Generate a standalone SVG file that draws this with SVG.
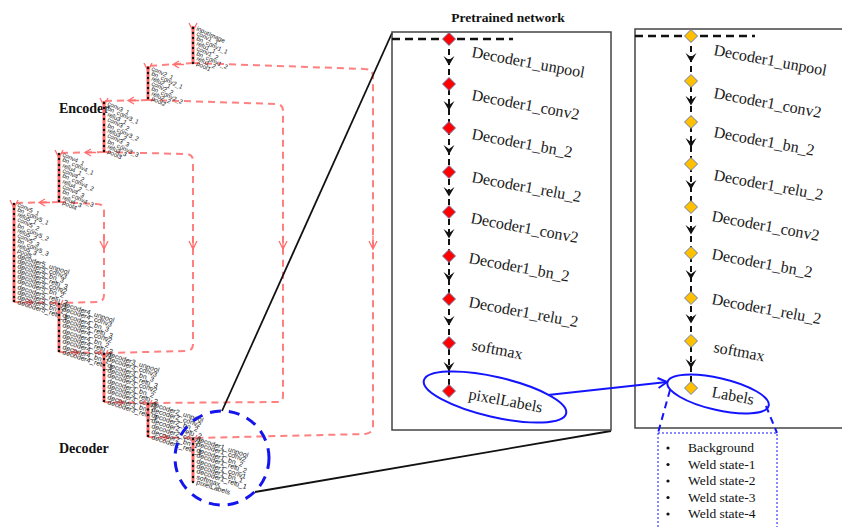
<svg xmlns="http://www.w3.org/2000/svg" xmlns:xlink="http://www.w3.org/1999/xlink" width="842" height="527" viewBox="0 0 842 527">
<style>
.lbl{font-family:"Liberation Serif",serif;font-size:16px;fill:#1a1a1a}
.ttl{font-family:"Liberation Serif",serif;font-size:13.5px;font-weight:bold;fill:#111}
.big{font-family:"Liberation Serif",serif;font-size:14px;font-weight:bold;fill:#111}
.leg{font-family:"Liberation Serif",serif;font-size:13.5px;fill:#111}
.tn{font-family:"Liberation Sans",sans-serif;font-size:6.2px;fill:#1a1a1a}
.td{font-family:"Liberation Sans",sans-serif;font-size:7px;fill:#1a1a1a}
.col{stroke:#ff6a6a;stroke-width:3;fill:none}
.dot{fill:#111}
.skip{fill:none;stroke:#ff8080;stroke-width:2;stroke-dasharray:7 5}
.rarr{fill:none;stroke:#ff7070;stroke-width:1.3}
.chain{stroke:#111;stroke-width:2;stroke-dasharray:6 4;fill:none}
.topd{stroke:#111;stroke-width:2.5;stroke-dasharray:8 5;fill:none}
.box{fill:none;stroke:#444;stroke-width:1.5}
.dr{fill:#ff0000;stroke:#6a7fb0;stroke-width:1}
.dy{fill:#ffc000;stroke:#6a7fb0;stroke-width:1}
.blue{fill:none;stroke:#1414ff;stroke-width:2}
</style>
<defs>
<path id="ah" d="M-5.5,-6 L0,3.5 L5.5,-6 L0,-2 Z" fill="#111"/>
<path id="dm" d="M0,-6.5 L6.5,0 L0,6.5 L-6.5,0 Z"/>
<marker id="bh" markerWidth="14" markerHeight="14" refX="10" refY="6" orient="auto" markerUnits="userSpaceOnUse">
<path d="M1,1 L10,6 L1,11" fill="none" stroke="#1414ff" stroke-width="2"/>
</marker>
</defs>

<!-- Left network -->
<g id="network">
<text class="big" x="59" y="113">Encoder</text>
<text class="big" x="59" y="453">Decoder</text>

<g id="connectors-left">
<path class="skip" d="M193,63 L365,69 Q373,69 373,77 L373,427 Q373,433 365,434 L196,438"/>
<path class="skip" d="M148,100 L276,104 Q283,104 283,111 L283,396 Q283,402 276,402 L150,403"/>
<path class="skip" d="M104,152 L186,154 Q193,154 193,161 L193,344 Q193,351 186,351 L106,353"/>
<path class="skip" d="M59,202 L97,204 Q104,204 104,211 L104,295 Q104,302 97,302 L61,303"/>
<path class="skip" d="M193,63 L148,66"/>
<path class="skip" d="M148,100 L104,101"/>
<path class="skip" d="M104,152 L59,153"/>
<path class="skip" d="M59,202 L14,203"/>
<path class="skip" d="M14,302 L59,303"/>
<path class="skip" d="M59,352 L104,353"/>
<path class="skip" d="M104,402 L148,403"/>
<path class="skip" d="M148,437 L193,438"/>
<path class="rarr" d="M179,61 L173,64.5 L179,68 M173,64.5 L184,64.5"/>
<path class="rarr" d="M134,97 L128,100.5 L134,104 M128,100.5 L139,100.5"/>
<path class="rarr" d="M91,149 L85,152.5 L91,156 M85,152.5 L96,152.5"/>
<path class="rarr" d="M45,199 L39,202.5 L45,206 M39,202.5 L50,202.5"/>
<path class="rarr" d="M27,299 L33,302.5 L27,306 M22,302.5 L33,302.5"/>
<path class="rarr" d="M73,349 L79,352.5 L73,356 M68,352.5 L79,352.5"/>
<path class="rarr" d="M118,399 L124,402.5 L118,406 M113,402.5 L124,402.5"/>
<path class="rarr" d="M163,434 L169,437.5 L163,441 M158,437.5 L169,437.5"/>
<path class="rarr" d="M100,241 L104,249 L108,241 M104,236 L104,249"/>
<path class="rarr" d="M189,241 L193,249 L197,241 M193,236 L193,249"/>
<path class="rarr" d="M279,241 L283,249 L287,241 M283,236 L283,249"/>
<path class="rarr" d="M369,241 L373,249 L377,241 M373,236 L373,249"/>
</g>

<g id="b1">
<path class="col" d="M193,26 L193,64"/>
<path class="rarr" d="M189,23 L193,31 L197,23"/>
<g class="dot"><circle cx="193" cy="28" r="1.2"/><circle cx="193" cy="33" r="1.2"/><circle cx="193" cy="38" r="1.2"/><circle cx="193" cy="43" r="1.2"/><circle cx="193" cy="48" r="1.2"/><circle cx="193" cy="53" r="1.2"/><circle cx="193" cy="58" r="1.2"/><circle cx="193" cy="63" r="1.2"/></g>
<g class="tn">
<text transform="translate(196,30) rotate(25)">inputImage</text>
<text transform="translate(196,35) rotate(25)">conv1_1</text>
<text transform="translate(196,40) rotate(25)">bn_conv1_1</text>
<text transform="translate(196,45) rotate(25)">relu1_1</text>
<text transform="translate(196,50) rotate(25)">conv1_2</text>
<text transform="translate(196,55) rotate(25)">bn_conv1_2</text>
<text transform="translate(196,60) rotate(25)">relu1_2</text>
<text transform="translate(196,65) rotate(25)">pool1</text>
</g>
</g>

<g id="b2">
<path class="col" d="M148,66 L148,100"/>
<path class="rarr" d="M144,63 L148,71 L152,63"/>
<g class="dot"><circle cx="148" cy="68" r="1.2"/><circle cx="148" cy="73" r="1.2"/><circle cx="148" cy="78" r="1.2"/><circle cx="148" cy="83" r="1.2"/><circle cx="148" cy="88" r="1.2"/><circle cx="148" cy="93" r="1.2"/><circle cx="148" cy="98" r="1.2"/></g>
<g class="tn">
<text transform="translate(151,70) rotate(25)">conv2_1</text>
<text transform="translate(151,75) rotate(25)">bn_conv2_1</text>
<text transform="translate(151,80) rotate(25)">relu2_1</text>
<text transform="translate(151,85) rotate(25)">conv2_2</text>
<text transform="translate(151,90) rotate(25)">bn_conv2_2</text>
<text transform="translate(151,95) rotate(25)">relu2_2</text>
<text transform="translate(151,100) rotate(25)">pool2</text>
</g>
</g>

<g id="b3">
<path class="col" d="M104,101 L104,152"/>
<path class="rarr" d="M100,98 L104,106 L108,98"/>
<g class="dot"><circle cx="104" cy="103" r="1.2"/><circle cx="104" cy="108" r="1.2"/><circle cx="104" cy="114" r="1.2"/><circle cx="104" cy="119" r="1.2"/><circle cx="104" cy="125" r="1.2"/><circle cx="104" cy="130" r="1.2"/><circle cx="104" cy="135" r="1.2"/><circle cx="104" cy="141" r="1.2"/><circle cx="104" cy="146" r="1.2"/><circle cx="104" cy="151" r="1.2"/></g>
<g class="tn">
<text transform="translate(107,105) rotate(25)">conv3_1</text>
<text transform="translate(107,110) rotate(25)">bn_conv3_1</text>
<text transform="translate(107,116) rotate(25)">relu3_1</text>
<text transform="translate(107,121) rotate(25)">conv3_2</text>
<text transform="translate(107,127) rotate(25)">bn_conv3_2</text>
<text transform="translate(107,132) rotate(25)">relu3_2</text>
<text transform="translate(107,137) rotate(25)">conv3_3</text>
<text transform="translate(107,143) rotate(25)">bn_conv3_3</text>
<text transform="translate(107,148) rotate(25)">relu3_3</text>
<text transform="translate(107,153) rotate(25)">pool3</text>
</g>
</g>

<g id="b4">
<path class="col" d="M59,153 L59,202"/>
<path class="rarr" d="M55,150 L59,158 L63,150"/>
<g class="dot"><circle cx="59" cy="154" r="1.2"/><circle cx="59" cy="159" r="1.2"/><circle cx="59" cy="165" r="1.2"/><circle cx="59" cy="170" r="1.2"/><circle cx="59" cy="175" r="1.2"/><circle cx="59" cy="181" r="1.2"/><circle cx="59" cy="186" r="1.2"/><circle cx="59" cy="191" r="1.2"/><circle cx="59" cy="197" r="1.2"/><circle cx="59" cy="201" r="1.2"/></g>
<g class="tn">
<text transform="translate(62,156) rotate(25)">conv4_1</text>
<text transform="translate(62,161) rotate(25)">bn_conv4_1</text>
<text transform="translate(62,167) rotate(25)">relu4_1</text>
<text transform="translate(62,172) rotate(25)">conv4_2</text>
<text transform="translate(62,177) rotate(25)">bn_conv4_2</text>
<text transform="translate(62,183) rotate(25)">relu4_2</text>
<text transform="translate(62,188) rotate(25)">conv4_3</text>
<text transform="translate(62,193) rotate(25)">bn_conv4_3</text>
<text transform="translate(62,199) rotate(25)">relu4_3</text>
<text transform="translate(62,204) rotate(25)">pool4</text>
</g>
</g>

<g id="b5">
<path class="col" d="M14,203 L14,302"/>
<path class="rarr" d="M10,200 L14,208 L18,200"/>
<g class="dot"><circle cx="14" cy="204" r="1.2"/><circle cx="14" cy="209" r="1.2"/><circle cx="14" cy="214" r="1.2"/><circle cx="14" cy="219" r="1.2"/><circle cx="14" cy="225" r="1.2"/><circle cx="14" cy="230" r="1.2"/><circle cx="14" cy="235" r="1.2"/><circle cx="14" cy="240" r="1.2"/><circle cx="14" cy="245" r="1.2"/><circle cx="14" cy="250" r="1.2"/><circle cx="14" cy="256" r="1.2"/><circle cx="14" cy="261" r="1.2"/><circle cx="14" cy="266" r="1.2"/><circle cx="14" cy="271" r="1.2"/><circle cx="14" cy="276" r="1.2"/><circle cx="14" cy="281" r="1.2"/><circle cx="14" cy="287" r="1.2"/><circle cx="14" cy="292" r="1.2"/><circle cx="14" cy="297" r="1.2"/><circle cx="14" cy="301" r="1.2"/></g>
<g class="tn">
<text transform="translate(17,206) rotate(25)">conv5_1</text>
<text transform="translate(17,211) rotate(25)">bn_conv5_1</text>
<text transform="translate(17,216) rotate(25)">relu5_1</text>
<text transform="translate(17,221) rotate(25)">conv5_2</text>
<text transform="translate(17,227) rotate(25)">bn_conv5_2</text>
<text transform="translate(17,232) rotate(25)">relu5_2</text>
<text transform="translate(17,237) rotate(25)">conv5_3</text>
<text transform="translate(17,242) rotate(25)">bn_conv5_3</text>
<text transform="translate(17,247) rotate(25)">relu5_3</text>
<text transform="translate(17,252) rotate(25)">pool5</text>
</g>
<g class="td">
<text transform="translate(17,258) rotate(18)">decoder5_unpool</text>
<text transform="translate(17,263) rotate(18)">decoder5_conv3</text>
<text transform="translate(17,268) rotate(18)">decoder5_bn_3</text>
<text transform="translate(17,273) rotate(18)">decoder5_relu_3</text>
<text transform="translate(17,278) rotate(18)">decoder5_conv2</text>
<text transform="translate(17,283) rotate(18)">decoder5_bn_2</text>
<text transform="translate(17,289) rotate(18)">decoder5_relu_2</text>
<text transform="translate(17,294) rotate(18)">decoder5_conv1</text>
<text transform="translate(17,299) rotate(18)">decoder5_bn_1</text>
<text transform="translate(17,304) rotate(18)">decoder5_relu_1</text>
</g>
</g>

<g id="d4">
<path class="col" d="M59,303 L59,352"/>
<path class="rarr" d="M55,300 L59,308 L63,300"/>
<g class="dot"><circle cx="59" cy="304" r="1.2"/><circle cx="59" cy="309" r="1.2"/><circle cx="59" cy="315" r="1.2"/><circle cx="59" cy="320" r="1.2"/><circle cx="59" cy="325" r="1.2"/><circle cx="59" cy="331" r="1.2"/><circle cx="59" cy="336" r="1.2"/><circle cx="59" cy="341" r="1.2"/><circle cx="59" cy="347" r="1.2"/><circle cx="59" cy="351" r="1.2"/></g>
<g class="td">
<text transform="translate(62,306) rotate(18)">decoder4_unpool</text>
<text transform="translate(62,311) rotate(18)">decoder4_conv3</text>
<text transform="translate(62,317) rotate(18)">decoder4_bn_3</text>
<text transform="translate(62,322) rotate(18)">decoder4_relu_3</text>
<text transform="translate(62,327) rotate(18)">decoder4_conv2</text>
<text transform="translate(62,333) rotate(18)">decoder4_bn_2</text>
<text transform="translate(62,338) rotate(18)">decoder4_relu_2</text>
<text transform="translate(62,343) rotate(18)">decoder4_conv1</text>
<text transform="translate(62,349) rotate(18)">decoder4_bn_1</text>
<text transform="translate(62,354) rotate(18)">decoder4_relu_1</text>
</g>
</g>

<g id="d3">
<path class="col" d="M104,353 L104,402"/>
<path class="rarr" d="M100,350 L104,358 L108,350"/>
<g class="dot"><circle cx="104" cy="354" r="1.2"/><circle cx="104" cy="359" r="1.2"/><circle cx="104" cy="365" r="1.2"/><circle cx="104" cy="370" r="1.2"/><circle cx="104" cy="375" r="1.2"/><circle cx="104" cy="381" r="1.2"/><circle cx="104" cy="386" r="1.2"/><circle cx="104" cy="391" r="1.2"/><circle cx="104" cy="397" r="1.2"/><circle cx="104" cy="401" r="1.2"/></g>
<g class="td">
<text transform="translate(107,356) rotate(18)">decoder3_unpool</text>
<text transform="translate(107,361) rotate(18)">decoder3_conv3</text>
<text transform="translate(107,367) rotate(18)">decoder3_bn_3</text>
<text transform="translate(107,372) rotate(18)">decoder3_relu_3</text>
<text transform="translate(107,377) rotate(18)">decoder3_conv2</text>
<text transform="translate(107,383) rotate(18)">decoder3_bn_2</text>
<text transform="translate(107,388) rotate(18)">decoder3_relu_2</text>
<text transform="translate(107,393) rotate(18)">decoder3_conv1</text>
<text transform="translate(107,399) rotate(18)">decoder3_bn_1</text>
<text transform="translate(107,404) rotate(18)">decoder3_relu_1</text>
</g>
</g>

<g id="d2">
<path class="col" d="M148,403 L148,437"/>
<path class="rarr" d="M144,400 L148,408 L152,400"/>
<g class="dot"><circle cx="148" cy="404" r="1.2"/><circle cx="148" cy="409.5" r="1.2"/><circle cx="148" cy="415" r="1.2"/><circle cx="148" cy="420.5" r="1.2"/><circle cx="148" cy="426" r="1.2"/><circle cx="148" cy="431.5" r="1.2"/><circle cx="148" cy="436" r="1.2"/></g>
<g class="td">
<text transform="translate(151,406) rotate(18)">decoder2_unpool</text>
<text transform="translate(151,411.5) rotate(18)">decoder2_conv2</text>
<text transform="translate(151,417) rotate(18)">decoder2_bn_2</text>
<text transform="translate(151,422.5) rotate(18)">decoder2_relu_2</text>
<text transform="translate(151,428) rotate(18)">decoder2_conv1</text>
<text transform="translate(151,433.5) rotate(18)">decoder2_bn_1</text>
<text transform="translate(151,439) rotate(18)">decoder2_relu_1</text>
</g>
</g>

<g id="d1">
<path class="col" d="M193,438 L193,482"/>
<path class="rarr" d="M189,435 L193,443 L197,435"/>
<g class="dot"><circle cx="193" cy="439" r="1.2"/><circle cx="193" cy="444" r="1.2"/><circle cx="193" cy="450" r="1.2"/><circle cx="193" cy="455" r="1.2"/><circle cx="193" cy="461" r="1.2"/><circle cx="193" cy="466" r="1.2"/><circle cx="193" cy="471" r="1.2"/><circle cx="193" cy="477" r="1.2"/><circle cx="193" cy="482" r="1.2"/></g>
<g class="td">
<text transform="translate(196,441) rotate(18)">decoder1_unpool</text>
<text transform="translate(196,446) rotate(18)">decoder1_conv2</text>
<text transform="translate(196,452) rotate(18)">decoder1_bn_2</text>
<text transform="translate(196,457) rotate(18)">decoder1_relu_2</text>
<text transform="translate(196,463) rotate(18)">decoder1_conv1</text>
<text transform="translate(196,468) rotate(18)">decoder1_bn_1</text>
<text transform="translate(196,473) rotate(18)">decoder1_relu_1</text>
<text transform="translate(196,479) rotate(18)">softmax</text>
<text transform="translate(196,484) rotate(18)">pixelLabels</text>
</g>
</g>

<circle id="zoom-circle" cx="222" cy="458" r="47" fill="none" stroke="#1414ee" stroke-width="3" stroke-dasharray="11 8"/>
</g>

<g id="zoom-lines">
<path d="M222,411 L392,33" stroke="#111" stroke-width="1.8" fill="none"/>
<path d="M255,492 L611,431" stroke="#111" stroke-width="1.8" fill="none"/>
</g>

<!-- Middle panel -->
<g id="pretrained">
<text class="ttl" x="508" y="22" text-anchor="middle">Pretrained  network</text>
<rect class="box" x="392" y="32" width="219" height="398"/>
<path class="topd" d="M392,39 L513,39"/>
<path class="chain" d="M449,39 L449,391"/>
<g id="arrows-mid">
<use href="#ah" x="449" y="62"/><use href="#ah" x="449" y="107"/><use href="#ah" x="449" y="151"/><use href="#ah" x="449" y="193"/><use href="#ah" x="449" y="235"/><use href="#ah" x="449" y="278"/><use href="#ah" x="449" y="322"/><use href="#ah" x="449" y="368"/>
</g>
<g class="dr">
<use href="#dm" x="449" y="39"/><use href="#dm" x="449" y="84"/><use href="#dm" x="449" y="128"/><use href="#dm" x="449" y="172"/><use href="#dm" x="449" y="212"/><use href="#dm" x="449" y="256"/><use href="#dm" x="449" y="299"/><use href="#dm" x="449" y="343"/><use href="#dm" x="449" y="391"/>
</g>
<g class="lbl">
<text transform="translate(471,57) rotate(10.5)">Decoder1_unpool</text>
<text transform="translate(471,100) rotate(10.5)">Decoder1_conv2</text>
<text transform="translate(471,139) rotate(10.5)">Decoder1_bn_2</text>
<text transform="translate(471,182) rotate(10.5)">Decoder1_relu_2</text>
<text transform="translate(470,223) rotate(10.5)">Decoder1_conv2</text>
<text transform="translate(468,263) rotate(10.5)">Decoder1_bn_2</text>
<text transform="translate(468,307) rotate(10.5)">Decoder1_relu_2</text>
<text transform="translate(471,350) rotate(10.5)">softmax</text>
<text transform="translate(468,399) rotate(10.5)">pixelLabels</text>
</g>
<ellipse class="blue" cx="495" cy="397" rx="73" ry="20" transform="rotate(13 495 397)"/>
</g>

<!-- Right panel -->
<g id="new-network">
<path class="box" d="M850,29 L635,29 L635,428 L850,428"/>
<path class="topd" d="M635,36 L755,36"/>
<path class="chain" d="M691,36 L691,388"/>
<g id="arrows-right">
<use href="#ah" x="691" y="59"/><use href="#ah" x="691" y="102"/><use href="#ah" x="691" y="144"/><use href="#ah" x="691" y="186"/><use href="#ah" x="691" y="231"/><use href="#ah" x="691" y="276"/><use href="#ah" x="691" y="320"/><use href="#ah" x="691" y="365"/>
</g>
<g class="dy">
<use href="#dm" x="691" y="36"/><use href="#dm" x="691" y="81"/><use href="#dm" x="691" y="122"/><use href="#dm" x="691" y="164"/><use href="#dm" x="691" y="207"/><use href="#dm" x="691" y="253"/><use href="#dm" x="691" y="298"/><use href="#dm" x="691" y="341"/><use href="#dm" x="691" y="388"/>
</g>
<g class="lbl">
<text transform="translate(713,55) rotate(10.5)">Decoder1_unpool</text>
<text transform="translate(713,98) rotate(10.5)">Decoder1_conv2</text>
<text transform="translate(713,137) rotate(10.5)">Decoder1_bn_2</text>
<text transform="translate(713,180) rotate(10.5)">Decoder1_relu_2</text>
<text transform="translate(711,221) rotate(10.5)">Decoder1_conv2</text>
<text transform="translate(711,259) rotate(10.5)">Decoder1_bn_2</text>
<text transform="translate(711,304) rotate(10.5)">Decoder1_relu_2</text>
<text transform="translate(713,352) rotate(10.5)">softmax</text>
<text transform="translate(711,397) rotate(10.5)">Labels</text>
</g>
<ellipse class="blue" cx="718" cy="394" rx="52" ry="16" transform="rotate(13 718 394)"/>
</g>

<g id="links">
<path class="blue" d="M548,395 L667,382" marker-end="url(#bh)"/>
<path d="M670,390 L658,433 M766,406 L777,433" stroke="#1414ff" stroke-width="2" stroke-dasharray="7 5" fill="none"/>
</g>

<g id="legend">
<rect x="658" y="433" width="119" height="100" fill="none" stroke="#1414ff" stroke-width="1" stroke-dasharray="2 2"/>
<g class="leg">
<circle cx="668" cy="448" r="1.6" fill="#111"/><text x="688" y="452">Background</text>
<circle cx="668" cy="464.5" r="1.6" fill="#111"/><text x="688" y="468.5">Weld state-1</text>
<circle cx="668" cy="481" r="1.6" fill="#111"/><text x="688" y="485">Weld state-2</text>
<circle cx="668" cy="497.5" r="1.6" fill="#111"/><text x="688" y="501.5">Weld state-3</text>
<circle cx="668" cy="514" r="1.6" fill="#111"/><text x="688" y="518">Weld state-4</text>
</g>
</g>
</svg>
